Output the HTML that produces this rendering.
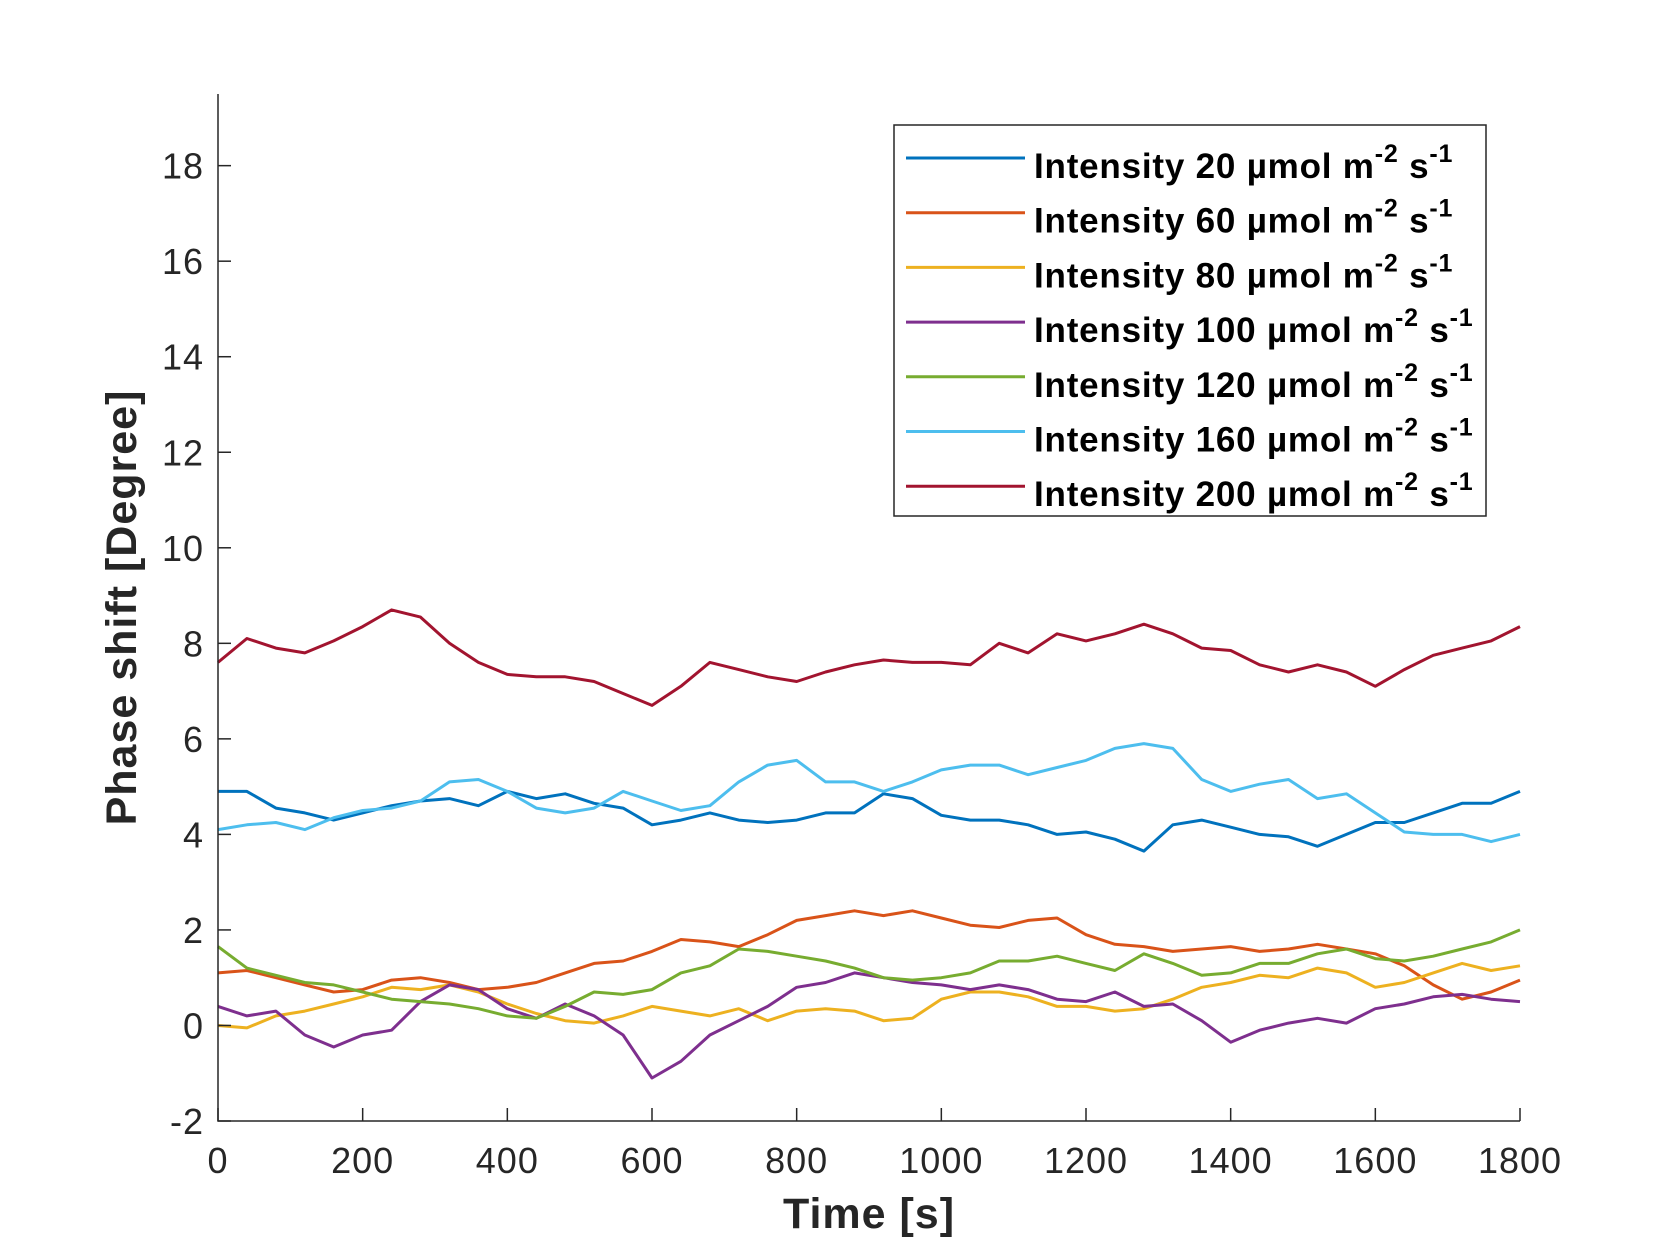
<!DOCTYPE html>
<html><head><meta charset="utf-8"><style>
html,body{margin:0;padding:0;background:#fff;}
svg{display:block;font-family:"Liberation Sans",Arial,sans-serif;}
</style></head><body>
<svg id="chart" width="1680" height="1260" viewBox="0 0 1680 1260" xmlns="http://www.w3.org/2000/svg">
<rect width="1680" height="1260" fill="#fff"/>
<g id="plot"></g>
<g id="axes"></g>
<g id="legend"></g>
</svg>
<script>
const times = [0,40,80,120,160,200,240,280,320,360,400,440,480,520,560,600,640,680,720,760,800,840,880,920,960,1000,1040,1080,1120,1160,1200,1240,1280,1320,1360,1400,1440,1480,1520,1560,1600,1640,1680,1720,1760,1800];
const s20 = [4.9,4.9,4.55,4.45,4.3,4.45,4.6,4.7,4.75,4.6,4.9,4.75,4.85,4.65,4.55,4.2,4.3,4.45,4.3,4.25,4.3,4.45,4.45,4.85,4.75,4.4,4.3,4.3,4.2,4.0,4.05,3.9,3.65,4.2,4.3,4.15,4.0,3.95,3.75,4.0,4.25,4.25,4.45,4.65,4.65,4.9];
const s60 = [1.1,1.15,1.0,0.85,0.7,0.75,0.95,1.0,0.9,0.75,0.8,0.9,1.1,1.3,1.35,1.55,1.8,1.75,1.65,1.9,2.2,2.3,2.4,2.3,2.4,2.25,2.1,2.05,2.2,2.25,1.9,1.7,1.65,1.55,1.6,1.65,1.55,1.6,1.7,1.6,1.5,1.25,0.85,0.55,0.7,0.95];
const s80 = [0.0,-0.05,0.2,0.3,0.45,0.6,0.8,0.75,0.85,0.7,0.45,0.25,0.1,0.05,0.2,0.4,0.3,0.2,0.35,0.1,0.3,0.35,0.3,0.1,0.15,0.55,0.7,0.7,0.6,0.4,0.4,0.3,0.35,0.55,0.8,0.9,1.05,1.0,1.2,1.1,0.8,0.9,1.1,1.3,1.15,1.25];
const s100 = [0.4,0.2,0.3,-0.2,-0.45,-0.2,-0.1,0.5,0.85,0.75,0.35,0.15,0.45,0.2,-0.2,-1.1,-0.75,-0.2,0.1,0.4,0.8,0.9,1.1,1.0,0.9,0.85,0.75,0.85,0.75,0.55,0.5,0.7,0.4,0.45,0.1,-0.35,-0.1,0.05,0.15,0.05,0.35,0.45,0.6,0.65,0.55,0.5];
const s120 = [1.65,1.2,1.05,0.9,0.85,0.7,0.55,0.5,0.45,0.35,0.2,0.15,0.4,0.7,0.65,0.75,1.1,1.25,1.6,1.55,1.45,1.35,1.2,1.0,0.95,1.0,1.1,1.35,1.35,1.45,1.3,1.15,1.5,1.3,1.05,1.1,1.3,1.3,1.5,1.6,1.4,1.35,1.45,1.6,1.75,2.0];
const s160 = [4.1,4.2,4.25,4.1,4.35,4.5,4.55,4.7,5.1,5.15,4.9,4.55,4.45,4.55,4.9,4.7,4.5,4.6,5.1,5.45,5.55,5.1,5.1,4.9,5.1,5.35,5.45,5.45,5.25,5.4,5.55,5.8,5.9,5.8,5.15,4.9,5.05,5.15,4.75,4.85,4.45,4.05,4.0,4.0,3.85,4.0];
const s200 = [7.6,8.1,7.9,7.8,8.05,8.35,8.7,8.55,8.0,7.6,7.35,7.3,7.3,7.2,6.95,6.7,7.1,7.6,7.45,7.3,7.2,7.4,7.55,7.65,7.6,7.6,7.55,8.0,7.8,8.2,8.05,8.2,8.4,8.2,7.9,7.85,7.55,7.4,7.55,7.4,7.1,7.45,7.75,7.9,8.05,8.35];
const legendLabels = ["20","60","80","100","120","160","200"];
const xTicks = [0,200,400,600,800,1000,1200,1400,1600,1800];
const yTicks = [-2,0,2,4,6,8,10,12,14,16,18];

const series = [s20,s60,s80,s100,s120,s160,s200];
const colors = ["#0072BD","#D95319","#EDB120","#7E2F8E","#77AC30","#4DBEEE","#A2142F"];
const L=218,R=1520,T=94,B=1121, X0=0,X1=1800,Y0=-2,Y1=19.5;
const xs = t => L + (t-X0)/(X1-X0)*(R-L);
const ys = v => B - (v-Y0)/(Y1-Y0)*(B-T);
const NS="http://www.w3.org/2000/svg";
function mk(tag, attrs, parent){const e=document.createElementNS(NS,tag);for(const k in attrs)e.setAttribute(k,attrs[k]);parent.appendChild(e);return e;}
const plot=document.getElementById('plot'), axes=document.getElementById('axes'), leg=document.getElementById('legend');

series.forEach((s,i)=>{
  const pts=s.map((v,j)=>xs(times[j]).toFixed(1)+","+ys(v).toFixed(1)).join(" ");
  const pl=mk('polyline',{points:pts,fill:'none',stroke:colors[i],'stroke-width':3,'stroke-linejoin':'round'},plot);
  
  
});

const ax=mk('path',{d:`M${L},${T} V${B} H${R}`,fill:'none',stroke:'#262626','stroke-width':1.5},axes);


xTicks.forEach(t=>{
  const x=xs(t);
  const tk=mk('line',{x1:x,x2:x,y1:B,y2:B-13,stroke:'#262626','stroke-width':1.5},axes);
  
  
  const tx=mk('text',{x:x,y:B+52,'text-anchor':'middle','font-size':36,'letter-spacing':1,fill:'#262626'},axes);
  tx.textContent=t;
  
  
});
yTicks.forEach(v=>{
  const y=ys(v);
  const tk=mk('line',{x1:L,x2:L+13,y1:y,y2:y,stroke:'#262626','stroke-width':1.5},axes);
  
  
  const tx=mk('text',{x:L-14,y:y+13,'text-anchor':'end','font-size':36,'letter-spacing':1,fill:'#262626'},axes);
  tx.textContent=v;
  
  
});
const xt=mk('text',{x:(L+R)/2,y:1228,'text-anchor':'middle','font-size':43,'font-weight':'bold','letter-spacing':1,fill:'#262626'},axes);
xt.textContent='Time [s]';


const yt=mk('text',{x:0,y:0,'text-anchor':'middle','font-size':43,'font-weight':'bold','letter-spacing':1,fill:'#262626',transform:`translate(136,${(T+B)/2}) rotate(-90)`},axes);
yt.textContent='Phase shift [Degree]';



const box=mk('rect',{x:894,y:125,width:592,height:391,fill:'#fff',stroke:'#262626','stroke-width':1.5},leg);


legendLabels.forEach((lab,i)=>{
  const y=158+i*54.7;
  const g=mk('g',{},leg);
  
  
  mk('line',{x1:906,x2:1025,y1:y,y2:y,stroke:colors[i],'stroke-width':3},g);
  const tx=mk('text',{x:1034,y:y+20,'font-size':35,'font-weight':'bold','letter-spacing':0.8,fill:'#000'},g);
  const a=mk('tspan',{},tx); a.textContent='Intensity '+lab+' µmol m';
  const b=mk('tspan',{dy:-16,'font-size':25},tx); b.textContent='-2';
  const c=mk('tspan',{dy:16},tx); c.textContent=' s';
  const d=mk('tspan',{dy:-16,'font-size':25},tx); d.textContent='-1';
});
</script>
</body></html>
